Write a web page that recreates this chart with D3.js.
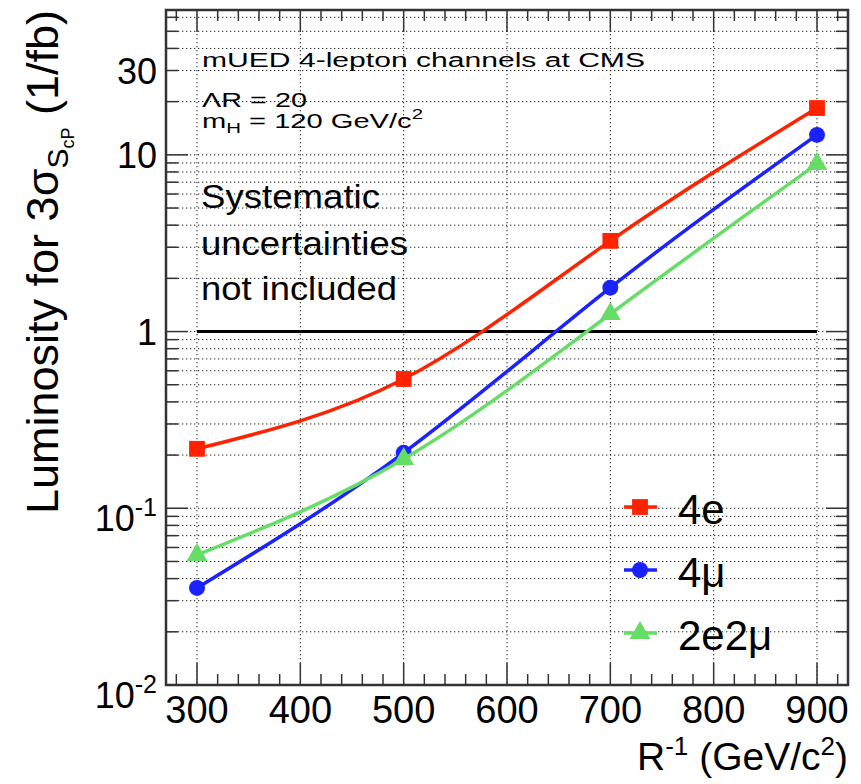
<!DOCTYPE html>
<html><head><meta charset="utf-8">
<script src="https://cdn.jsdelivr.net/npm/d3@7"></script>
<style>
body{margin:0;background:#fff;}
svg{display:block;font-family:"Liberation Sans",Arial,sans-serif;}
</style></head>
<body><svg id="c" width="861" height="784"></svg>
<script>
// ---- data ----
const rInv = [300, 500, 700, 900];
const lumi4e = [0.217, 0.539, 3.26, 18.4];
const lumi4mu = [0.0354, 0.206, 1.77, 12.97];
const lumi2e2mu = [0.0544, 0.190, 1.257, 8.89];
const seriesNames = ["4e", "4\u03bc", "2e2\u03bc"];
const xTickValues = [300, 400, 500, 600, 700, 800, 900];
const yLabelValues = [0.01, 0.1, 1, 10, 30];
const referenceLevel = 1;

// ---- layout ----
const svg = d3.select("#c");
const L = 166, R = 848, T = 10, B = 685;
const x = d3.scaleLinear().domain([270, 930]).range([L, R]);
const y = d3.scaleLog().domain([0.01, 66]).range([B, T]);

const colors = ["#ff2200", "#1a22ff", "#66dd66"];
const symbols = [d3.symbolSquare, d3.symbolCircle, d3.symbolTriangle];
const symSize = [250, 200, 190];

// minor ticks
const xMinor = d3.range(280, 931, 20);
const yAll = [];
for (let e = -2; e <= 1; e++) for (let m = 1; m <= 9; m++) { const v = m * Math.pow(10, e); if (v <= 66) yAll.push(v); }
const yMajor = [0.01, 0.1, 1, 10];

const g = svg.append("g");
// grid
g.selectAll(".hg").data(yAll).join("line")
  .attr("x1", L).attr("x2", R).attr("y1", d => y(d)).attr("y2", d => y(d))
  .attr("stroke", "#222").attr("stroke-width", 1).attr("stroke-dasharray", "1.3,2.7");
g.selectAll(".vg").data(xTickValues).join("line")
  .attr("x1", d => x(d)).attr("x2", d => x(d)).attr("y1", T).attr("y2", B)
  .attr("stroke", "#222").attr("stroke-width", 1).attr("stroke-dasharray", "1.3,2.7");

// ticks
const tk = svg.append("g").attr("stroke", "#333").attr("stroke-width", 1.5);
xMinor.forEach(v => {
  const len = v % 100 === 0 ? 22 : 11;
  tk.append("line").attr("x1", x(v)).attr("x2", x(v)).attr("y1", B).attr("y2", B - len);
  tk.append("line").attr("x1", x(v)).attr("x2", x(v)).attr("y1", T).attr("y2", T + len);
});
yAll.forEach(v => {
  const len = yMajor.includes(v) ? 22 : 12;
  tk.append("line").attr("x1", L).attr("x2", L + len).attr("y1", y(v)).attr("y2", y(v));
  tk.append("line").attr("x1", R).attr("x2", R - len).attr("y1", y(v)).attr("y2", y(v));
});

// reference line at 1
svg.append("line").attr("x1", x(300)).attr("x2", x(900))
  .attr("y1", y(referenceLevel)).attr("y2", y(referenceLevel))
  .attr("stroke", "#000").attr("stroke-width", 3);

// frame
svg.append("rect").attr("x", L).attr("y", T).attr("width", R - L).attr("height", B - T)
  .attr("fill", "none").attr("stroke", "#333").attr("stroke-width", 2.5);

// series
const all = [lumi4e, lumi4mu, lumi2e2mu];
const line = d3.line().x(d => x(d[0])).y(d => y(d[1])).curve(d3.curveNatural);
all.forEach((vals, i) => {
  const pts = rInv.map((r, k) => [r, vals[k]]);
  svg.append("path").attr("d", line(pts)).attr("fill", "none")
    .attr("stroke", colors[i]).attr("stroke-width", 3.5);
  svg.selectAll(".m" + i).data(pts).join("path")
    .attr("transform", d => `translate(${x(d[0])},${y(d[1])})`)
    .attr("d", d3.symbol().type(symbols[i]).size(symSize[i]))
    .attr("fill", colors[i]);
});

// x tick labels
svg.selectAll(".xl").data(xTickValues).join("text")
  .attr("x", d => x(d)).attr("y", 723).attr("text-anchor", "middle")
  .attr("font-size", 38).text(d => d);

// y tick labels
yLabelValues.forEach(v => {
  const t = svg.append("text").attr("x", 157).attr("text-anchor", "end").attr("font-size", 36);
  if (v < 1) {
    const e = Math.round(Math.log10(v));
    t.attr("y", y(v) + 23);
    t.append("tspan").text("10");
    t.append("tspan").attr("font-size", 25).attr("dy", -15).text(e);
  } else {
    t.attr("y", y(v) + 13).text(v);
  }
});

// axis titles
svg.append("text").attr("x", 848).attr("y", 770).attr("text-anchor", "end").attr("font-size", 39)
  .call(t => {
    t.append("tspan").text("R");
    t.append("tspan").attr("font-size", 26).attr("dy", -15).text("-1");
    t.append("tspan").attr("dy", 15).text(" (GeV/c");
    t.append("tspan").attr("font-size", 26).attr("dy", -15).text("2");
    t.append("tspan").attr("dy", 15).text(")");
  });

svg.append("text").attr("transform", "translate(58,0) rotate(-90)")
  .attr("x", -10).attr("y", 0).attr("text-anchor", "end").attr("font-size", 45)
  .call(t => {
    t.append("tspan").text("Luminosity for 3\u03c3");
    t.append("tspan").attr("font-size", 30).attr("dy", 10).text("S");
    t.append("tspan").attr("font-size", 18).attr("dy", 6).text("cP");
    t.append("tspan").attr("dy", -16).text("  (1/fb)");
  });

// annotations
const hdr = [
  {y: 67, w: 443},
  {y: 107, w: 105},
  {y: 128, w: 221}
];
svg.append("text").attr("x", 202).attr("y", hdr[0].y).attr("font-size", 20)
  .attr("textLength", hdr[0].w).attr("lengthAdjust", "spacingAndGlyphs")
  .text("mUED 4-lepton channels at CMS");
svg.append("text").attr("x", 202).attr("y", hdr[1].y).attr("font-size", 20)
  .attr("textLength", hdr[1].w).attr("lengthAdjust", "spacingAndGlyphs")
  .text("\u039bR = 20");
svg.append("text").attr("x", 202).attr("y", hdr[2].y).attr("font-size", 20)
  .attr("textLength", hdr[2].w).attr("lengthAdjust", "spacingAndGlyphs")
  .call(t => {
    t.append("tspan").text("m");
    t.append("tspan").attr("font-size", 14).attr("dy", 5).text("H");
    t.append("tspan").attr("dy", -5).text(" = 120 GeV/c");
    t.append("tspan").attr("font-size", 14).attr("dy", -9).text("2");
  });

const sysLines = [["Systematic", 208, 179], ["uncertainties", 255, 207], ["not included", 300, 196]];
sysLines.forEach(([s, yy, w]) => {
  svg.append("text").attr("x", 201).attr("y", yy).attr("font-size", 34)
    .attr("textLength", w).attr("lengthAdjust", "spacingAndGlyphs").text(s);
});

// legend
const legY = [507, 570, 633];
seriesNames.forEach((n, i) => {
  svg.append("line").attr("x1", 624).attr("x2", 657).attr("y1", legY[i]).attr("y2", legY[i])
    .attr("stroke", colors[i]).attr("stroke-width", 3.5);
  svg.append("path").attr("transform", `translate(640,${legY[i]})`)
    .attr("d", d3.symbol().type(symbols[i]).size(symSize[i])).attr("fill", colors[i]);
  svg.append("text").attr("x", 678).attr("y", legY[i] + 17).attr("font-size", 42).text(n);
});
</script></body></html>
